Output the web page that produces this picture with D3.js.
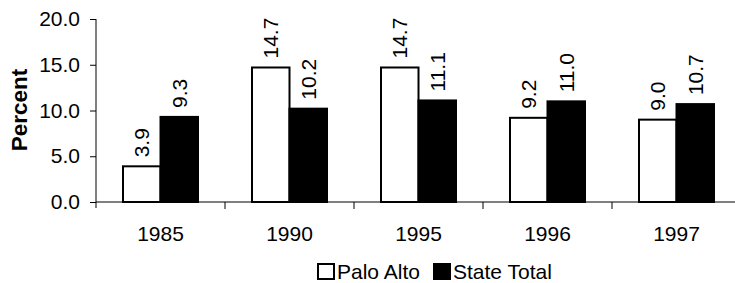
<!DOCTYPE html>
<html><head><meta charset="utf-8">
<script src="https://cdn.jsdelivr.net/npm/d3@7"></script>
<style>body{margin:0;background:#fff}svg{display:block}text{font-family:"Liberation Sans",Arial,sans-serif;fill:#000}</style>
</head><body>
<svg id="c" width="735" height="283"></svg>
<script>
const years = ["1985","1990","1995","1996","1997"];
const seriesNames = ["Palo Alto","State Total"];
const paloAlto = [3.9,14.7,14.7,9.2,9.0];
const stateTotal = [9.3,10.2,11.1,11.0,10.7];
const yTicks = [0,5,10,15,20];

(function(){
const svg = d3.select("#c");
const mLeft = 96, mTop = 19, mBottom = 202, bandW = 129;
const x0 = d3.scaleBand().domain(years).range([mLeft, mLeft + bandW*years.length]).padding(0);
const barW = 37.5;
const x1 = d3.scaleBand().domain(seriesNames).range([bandW/2 - barW, bandW/2 + barW]).padding(0);
const y = d3.scaleLinear().domain([0,20]).range([mBottom, mTop]);
const fills = {"Palo Alto":"#fff","State Total":"#000"};
const vals = {"Palo Alto":paloAlto,"State Total":stateTotal};

// bars
seriesNames.forEach(s=>{
  svg.append("g").selectAll("rect").data(years).join("rect")
    .attr("x", d=>x0(d)+x1(s)).attr("y", (d,i)=>y(vals[s][i]))
    .attr("width", x1.bandwidth()).attr("height",(d,i)=>y(0)-y(vals[s][i]))
    .attr("fill", fills[s]).attr("stroke","#000").attr("stroke-width",2);
  svg.append("g").selectAll("text").data(years).join("text")
    .attr("transform",(d,i)=>`translate(${x0(d)+x1(s)+x1.bandwidth()/2},${y(vals[s][i])-9}) rotate(-90)`)
    .attr("dy","0.35em").attr("text-anchor","start").style("font-size","21px")
    .text((d,i)=>vals[s][i].toFixed(1));
});

// y axis
const ya = svg.append("g").attr("transform",`translate(${mLeft},0)`)
  .call(d3.axisLeft(y).tickValues(yTicks).tickFormat(d3.format(".1f")).tickSize(6).tickPadding(10));
ya.select(".domain").attr("d",`M0,${mTop}V${mBottom+6}`).attr("stroke","#000");
ya.selectAll("text").style("font-size","21px");

// x axis
const xa = svg.append("g").attr("transform",`translate(0,${mBottom})`)
  .call(d3.axisBottom(x0).tickSize(0).tickPadding(24));
xa.select(".domain").attr("d",`M${mLeft},0H${mLeft+bandW*years.length}`).attr("stroke","#000");
xa.selectAll("text").style("font-size","21px");
svg.append("g").selectAll("line").data(years.slice(1)).join("line")
  .attr("x1",d=>x0(d)).attr("x2",d=>x0(d)).attr("y1",mBottom).attr("y2",mBottom+7).attr("stroke","#000");

// y label
svg.append("text").attr("transform",`translate(27,110) rotate(-90)`).attr("text-anchor","middle")
  .style("font-size","22.5px").attr("font-weight","bold").text("Percent");

// legend
const lg = svg.append("g");
const legX = [317, 433];
seriesNames.forEach((s,i)=>{
  lg.append("rect").attr("x",legX[i]+1).attr("y",264).attr("width",16).attr("height",15)
    .attr("fill",fills[s]).attr("stroke","#000").attr("stroke-width",2);
  lg.append("text").attr("x",legX[i]+20).attr("y",279).style("font-size","21px").text(s);
});
})();
</script>
</body></html>
